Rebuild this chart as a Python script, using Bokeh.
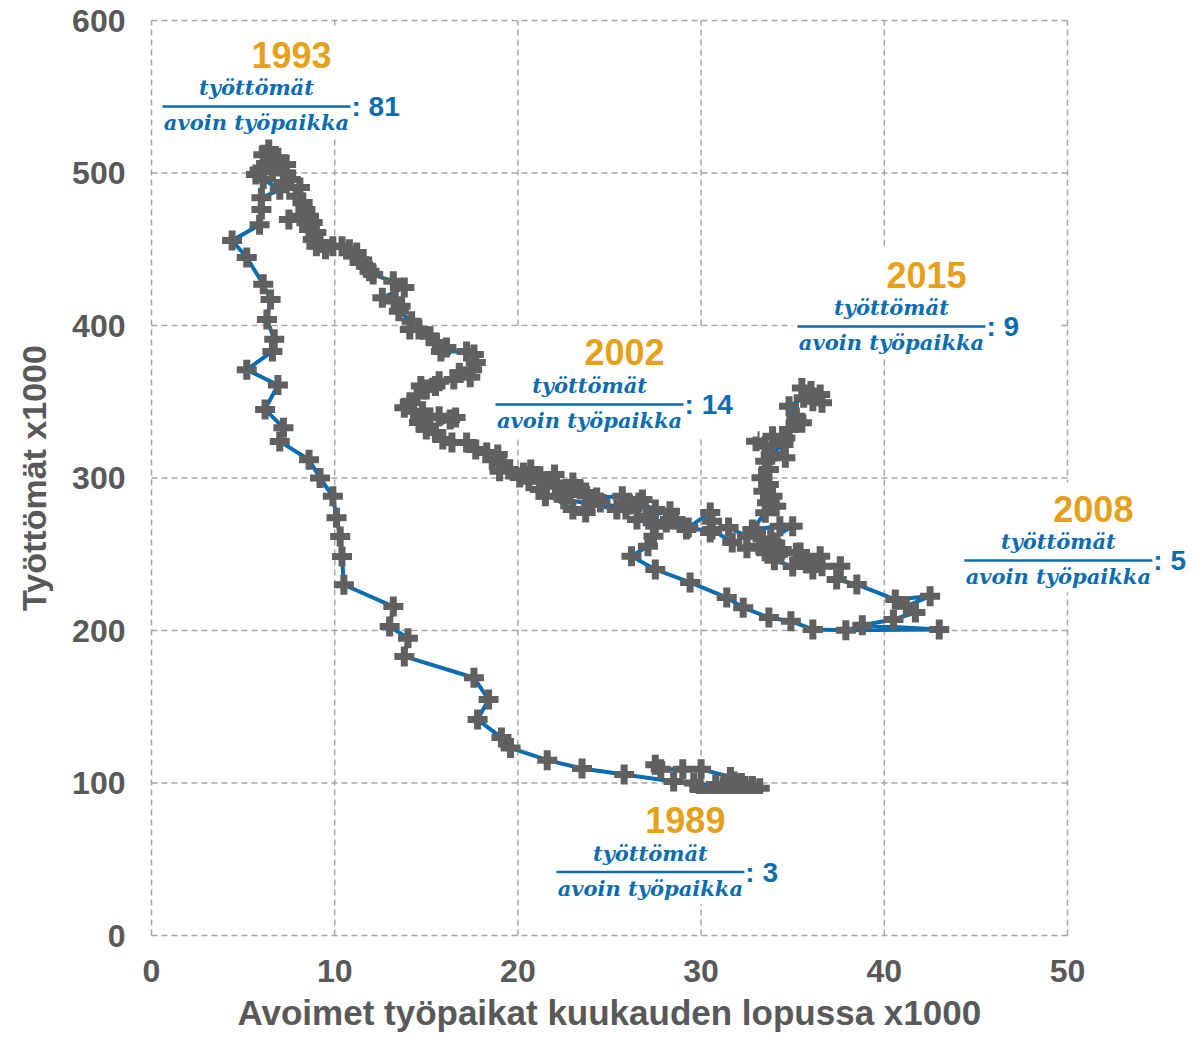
from bokeh.plotting import figure
from bokeh.models import Range1d, FixedTicker, Label, Arrow, BoxAnnotation, Title
from bokeh.embed import file_html
from bokeh.resources import INLINE

# ---------------- data (monthly path, 1989 -> 2016) ----------------
# Avoimet työpaikat (x1000)
vacancies = [
    # 1989-1990
    27.5, 27.8, 29.0, 30.0, 31.6, 32.2, 32.8, 33.2, 32.6, 31.8, 30.6, 29.9,
    30.8, 31.8, 32.4, 31.2, 29.6, 28.5, 25.8, 23.5, 21.6, 19.6, 19.1, 17.8,
    # 1991-1993
    18.4, 17.6, 13.8, 14.0, 13.0, 13.2, 10.5, 10.4, 10.3, 10.1, 9.9, 9.2,
    8.6, 7.0, 7.2, 6.2, 6.9, 5.2, 6.6, 6.7, 6.3, 6.5, 6.1, 5.2,
    4.4, 5.9, 6.0, 6.0, 7.0, 6.1,
    5.7, 5.9, 6.3, 6.1, 6.4, 6.9, 7.35, 6.6, 7.35, 7.6, 7.2, 8.1,
    7.9, 8.25, 8.4,
    # 1994-1999
    8.1, 7.5, 8.6, 8.8, 8.6, 9.0, 8.8, 9.2, 9.0, 9.5, 9.9, 10.4,
    10.8, 11.2, 11.0, 11.5, 11.7, 11.9, 12.1, 13.2, 13.8, 12.6, 13.3, 13.6,
    13.5, 14.2, 14.1, 14.6, 15.2, 15.5, 16.1, 15.8, 17.2, 17.6, 17.7, 17.5,
    17.4, 16.8, 16.5, 15.7, 15.5, 15.0, 14.7, 14.5, 14.1, 13.8, 14.3, 14.8,
    14.6, 15.2, 15.7, 16.3, 16.6, 15.0, 15.5, 15.9, 16.4, 17.2, 17.7, 18.3,
    18.9, 18.6, 19.2, 19.0, 19.5, 20.1, 20.3, 20.7, 20.6, 21.2, 21.5, 22.0,
    22.1, 22.4, 23.0, 22.8, 23.4, 23.7, 24.3,
    # 2000-2008
    25.7, 26.8, 26.1, 25.9, 24.5, 23.7, 23.0, 21.2, 21.5, 22.5, 24.0, 25.4,
    26.6, 27.5, 28.3, 27.0, 26.5, 28.1, 28.6, 29.3, 30.5, 30.6, 30.5, 31.5,
    32.5, 33.0, 33.9, 34.4, 35.4, 35.7, 36.5, 36.6, 37.6, 37.4, 38.5, 40.6,
    42.5, 41.2, 41.7, 40.5, 38.8, 43.0,
    # 2009
    37.9, 36.1, 34.9, 33.7, 32.3, 31.4, 29.4, 27.5, 26.2,
    # 2010-2016
    27.1, 27.4, 27.5, 28.3, 29.2, 30.6, 31.7, 32.5, 33.2, 34.2, 35.2, 35.8,
    36.1, 35.0, 34.0, 33.5, 33.8, 35.0, 34.3, 32.8, 33.5, 34.1, 33.6, 33.9,
    33.4, 33.7, 33.3, 33.7, 33.5, 34.6, 33.8, 34.5, 33.5, 33.0, 33.9, 34.6,
    34.8, 35.5, 35.2, 34.8, 35.6, 36.1, 35.5, 36.0, 36.5, 36.6,
]
# Työttömät (x1000)
unemployed = [
    # 1989-1990
    112, 109, 109, 109, 104, 100, 98, 96.5, 94, 94, 94, 96,
    99, 101, 98, 97, 100, 101, 105.6, 109.5, 115, 123, 129.8, 141.6,
    # 1991-1993
    154.8, 169, 183, 195, 202.6, 215.7, 230, 248.5, 261.6, 274, 288, 300,
    312, 324, 333, 345, 361, 371, 383, 391, 404, 417, 427, 444.6,
    455.7, 466, 476, 483.7, 489, 496,
    499, 502, 505.6, 512, 515.4, 510, 505.6, 501, 500, 495.7, 493.8, 490.5,
    484.8, 480.6, 476,
    # 1994-1999
    471.7, 469.5, 471.7, 467.5, 463, 461, 456.4, 454.4, 452, 450, 452, 452,
    450, 447.8, 445.5, 443, 438.9, 435.6, 433.4, 429, 424.9, 418.2, 416, 412.7,
    409.4, 402.8, 397.4, 397.4, 393, 388.8, 385.6, 383, 383, 381, 375.7, 371,
    366, 369, 364.6, 363.5, 360.3, 358, 360.3, 353.8, 349.5, 346, 343.8, 343.8,
    336.4, 339.7, 340.5, 338.4, 339.7, 331.8, 329.8, 325.2, 323.3, 323.3, 318.7, 316.7,
    315.4, 312, 310, 304.5, 305.6, 300.3, 303.6, 305.6, 297.9, 301.2, 297.9, 302.3,
    294.6, 292.5, 297, 289.2, 292.5, 290.5, 287.2,
    # 2000-2008
    288, 285.9, 282.6, 279.3, 284, 277.4, 279.3, 292.5, 288, 286, 283, 279.3,
    283.9, 279.3, 278.2, 274.9, 272.8, 270.8, 272.8, 267.5, 277.4, 271.7, 264.3, 267.5,
    261.8, 264.3, 257.7, 253.1, 251.1, 246.6, 248.7, 242.2, 242.2, 233.4, 230.2, 220.3,
    222.5, 215.9, 211.8, 207.2, 203.5, 200.7,
    # 2009
    200.2, 200.7, 206.1, 208.5, 215, 221.6, 231.5, 240, 248.7,
    # 2010-2016
    255.3, 261.8, 268.4, 272.8, 266.2, 266.2, 257.7, 254, 255.3, 250, 251, 244,
    240, 242, 246, 252, 260, 268.4, 268.4, 266.2, 277.2, 281.5, 283.7, 288,
    291.3, 295.7, 300.1, 305.6, 311, 313.2, 315.4, 322, 320.9, 324.1, 327.4, 326.3,
    331.8, 336.2, 339.5, 347.1, 352.6, 350.4, 359, 357, 354.8, 349.3,
]

years = ["1993", "2002", "2015", "2008", "1989"]
ratios = ["81", "14", "9", "5", "3"]
numerator = "työttömät"
denominator = "avoin työpaikka"
x_ticks = [0, 10, 20, 30, 40, 50]
y_ticks = [0, 100, 200, 300, 400, 500, 600]
x_title = "Avoimet työpaikat kuukauden lopussa x1000"
y_title = "Työttömät x1000"

# ---------------- layout ----------------
# left end of each annotation's fraction bar (data units)
anchor_x = [0.60, 18.78, 35.26, 44.37, 22.10]
anchor_y = [543.6, 348.2, 399.3, 245.9, 41.6]

PX_X = 916 / 50.0    # px per x unit
PX_Y = 915 / 600.0   # px per y unit
PAD = 4              # px of frame padding around the data area

def dx(px):
    return px / PX_X

def dy(px):
    return px / PX_Y

GREY = "#595959"
BLUE = "#0b6db0"
ORANGE = "#e5a11a"

W, H = 1190, 1038
BL, BT = 147, 16
FW = W - BL
FH = 915 + 2 * PAD

p = figure(width=W, height=H, output_backend="svg", toolbar_location=None,
           x_range=Range1d(-dx(PAD), -dx(PAD) + dx(FW)),
           y_range=Range1d(-dy(PAD), 600 + dy(PAD)),
           min_border_left=BL, min_border_right=0, min_border_top=BT,
           min_border_bottom=H - BT - FH)
p.outline_line_color = None
p.background_fill_color = "white"
p.xgrid.visible = False
p.ygrid.visible = False

for ax in (p.xaxis[0], p.yaxis[0]):
    ax.axis_line_color = None
    ax.major_tick_line_color = None
    ax.minor_tick_line_color = None
    ax.major_tick_out = 0
    ax.major_tick_in = 0
    ax.minor_tick_out = 0
    ax.major_label_text_font = "Liberation Sans"
    ax.major_label_text_font_style = "bold"
    ax.major_label_text_font_size = "32px"
    ax.major_label_text_color = GREY

p.xaxis[0].ticker = FixedTicker(ticks=x_ticks)
p.yaxis[0].ticker = FixedTicker(ticks=y_ticks)
p.xaxis[0].major_label_standoff = 20
p.yaxis[0].major_label_standoff = 22

p.yaxis[0].axis_label = y_title
p.yaxis[0].axis_label_text_font = "Liberation Sans"
p.yaxis[0].axis_label_text_font_style = "bold"
p.yaxis[0].axis_label_text_font_size = "34px"
p.yaxis[0].axis_label_text_color = GREY
p.yaxis[0].axis_label_standoff = 16

p.add_layout(Title(text=x_title, align="left", offset=90, standoff=13,
                   text_font="Liberation Sans", text_font_style="bold",
                   text_font_size="35px", text_color=GREY), "below")

# dashed grid, including the border lines of the data area
gx0 = [0] * len(y_ticks) + x_ticks
gx1 = [x_ticks[-1]] * len(y_ticks) + x_ticks
gy0 = y_ticks + [0] * len(x_ticks)
gy1 = y_ticks + [y_ticks[-1]] * len(x_ticks)
p.segment(gx0, gy0, gx1, gy1, line_color="#a6a6a6", line_width=1.5,
          line_dash="6 4")

p.line(vacancies, unemployed, line_color=BLUE, line_width=4)
p.scatter(vacancies, unemployed, marker="cross", size=20, line_width=7,
          line_color="#606060")

for yr, r, ax0, ay0 in zip(years, ratios, anchor_x, anchor_y):
    p.add_layout(BoxAnnotation(left=ax0 - dx(5), right=ax0 + dx(262),
                               top=ay0 + dy(78), bottom=ay0 - dy(32),
                               fill_color="white", fill_alpha=1.0,
                               line_color=None))
    p.add_layout(Label(x=ax0 + dx(129), y=ay0 + dy(52), text=yr,
                       text_align="center", text_baseline="middle",
                       text_font="Liberation Sans", text_font_style="bold",
                       text_font_size="36px", text_color=ORANGE))
    p.add_layout(Label(x=ax0 + dx(94), y=ay0 + dy(19), text=numerator,
                       text_align="center", text_baseline="middle",
                       text_font="DejaVu Serif", text_font_style="bold italic",
                       text_font_size="21px", text_color=BLUE))
    p.add_layout(Label(x=ax0 + dx(94), y=ay0 - dy(16), text=denominator,
                       text_align="center", text_baseline="middle",
                       text_font="DejaVu Serif", text_font_style="bold italic",
                       text_font_size="21px", text_color=BLUE))
    p.add_layout(Arrow(end=None, x_start=ax0, y_start=ay0,
                       x_end=ax0 + dx(188), y_end=ay0,
                       line_color=BLUE, line_width=2.5))
    p.add_layout(Label(x=ax0 + dx(189), y=ay0, text=": " + r,
                       text_align="left", text_baseline="middle",
                       text_font="Liberation Sans", text_font_style="bold",
                       text_font_size="28px", text_color=BLUE))

open("out.html", "w").write(file_html(p, INLINE))
